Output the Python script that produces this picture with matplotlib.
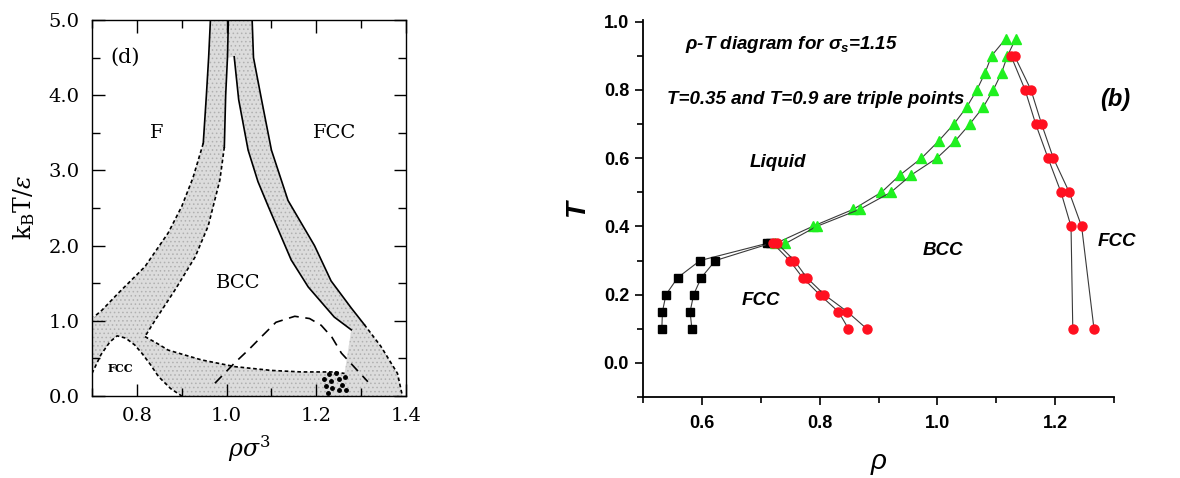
import matplotlib
matplotlib.use('Agg')
import matplotlib.pyplot as plt
from matplotlib.patches import Rectangle
from matplotlib.ticker import MultipleLocator

plt.rcParams['mathtext.fontset'] = 'custom'
plt.rcParams['mathtext.rm'] = 'Liberation Sans:bold'
plt.rcParams['mathtext.it'] = 'Liberation Sans:italic:bold'
plt.rcParams['mathtext.bf'] = 'Liberation Sans:bold'
plt.rcParams['hatch.linewidth'] = 0.6

# ---------------- panel (d): boundaries ----------------
# F side of the F/BCC band (solid on top, dashed below)
f_edge_x = [0.964, 0.960, 0.955, 0.948, 0.925, 0.900, 0.870, 0.818, 0.759, 0.722, 0.704]
f_edge_y = [5.0, 4.5, 4.0, 3.36, 2.90, 2.52, 2.17, 1.72, 1.37, 1.14, 1.05]
# BCC side of the F/BCC band
bcc_left_x = [1.004, 1.002, 0.998, 0.995, 0.985, 0.959, 0.930, 0.885, 0.841, 0.818]
bcc_left_y = [5.0, 4.5, 4.0, 3.31, 2.87, 2.26, 1.85, 1.41, 1.01, 0.79]
# BCC side of the BCC/FCC band
bcc_right_x = [1.017, 1.027, 1.048, 1.070, 1.093, 1.144, 1.182, 1.240, 1.278]
bcc_right_y = [4.51, 3.94, 3.27, 2.85, 2.52, 1.81, 1.45, 1.05, 0.88]
# FCC side of the BCC/FCC band
fcc_edge_x = [1.057, 1.060, 1.078, 1.100, 1.137, 1.196, 1.233, 1.278, 1.307, 1.344, 1.381, 1.392]
fcc_edge_y = [5.0, 4.5, 3.94, 3.27, 2.60, 2.00, 1.53, 1.17, 0.95, 0.66, 0.30, 0.0]
# top of the low temperature band
low_top_x = [0.818, 0.845, 0.870, 0.944, 1.019, 1.100, 1.167, 1.240, 1.263]
low_top_y = [0.79, 0.70, 0.61, 0.48, 0.39, 0.34, 0.32, 0.32, 0.30]
# small FCC dome
dome_x = [0.700, 0.720, 0.740, 0.756, 0.775, 0.795, 0.811, 0.830, 0.848, 0.875, 0.900]
dome_y = [0.30, 0.55, 0.72, 0.80, 0.77, 0.68, 0.57, 0.42, 0.26, 0.10, 0.0]
# long dashed curve
hump_x = [0.974, 1.018, 1.050, 1.078, 1.110, 1.152, 1.185, 1.211, 1.235, 1.256, 1.290, 1.315]
hump_y = [0.17, 0.44, 0.62, 0.79, 0.98, 1.06, 1.03, 0.94, 0.78, 0.57, 0.35, 0.19]
# dots
dots_x = [1.228, 1.244, 1.217, 1.233, 1.250, 1.263, 1.222, 1.235, 1.257, 1.226, 1.250, 1.267]
dots_y = [0.29, 0.31, 0.22, 0.20, 0.23, 0.25, 0.13, 0.11, 0.15, 0.04, 0.08, 0.08]

# ---------------- panel (b): rho-T data ----------------
sq1_rho = [0.532, 0.533, 0.539, 0.559, 0.597, 0.710]
sq1_T = [0.10, 0.15, 0.20, 0.25, 0.30, 0.35]
sq2_rho = [0.583, 0.580, 0.586, 0.599, 0.623, 0.716]
sq2_T = [0.10, 0.15, 0.20, 0.25, 0.30, 0.35]

lo1_rho = [0.721, 0.749, 0.771, 0.800, 0.832, 0.849]
lo1_T = [0.35, 0.30, 0.25, 0.20, 0.15, 0.10]
lo2_rho = [0.728, 0.757, 0.778, 0.808, 0.847, 0.880]
lo2_T = [0.35, 0.30, 0.25, 0.20, 0.15, 0.10]

tri1_rho = [0.725, 0.788, 0.857, 0.905, 0.936, 0.973, 1.002, 1.028, 1.050, 1.067, 1.081, 1.092, 1.116]
tri1_T = [0.35, 0.40, 0.45, 0.50, 0.55, 0.60, 0.65, 0.70, 0.75, 0.80, 0.85, 0.90, 0.95]
tri2_rho = [0.742, 0.795, 0.868, 0.921, 0.955, 0.999, 1.030, 1.055, 1.078, 1.095, 1.109, 1.119, 1.133]
tri2_T = [0.35, 0.40, 0.45, 0.50, 0.55, 0.60, 0.65, 0.70, 0.75, 0.80, 0.85, 0.90, 0.95]

hi1_rho = [1.125, 1.149, 1.167, 1.188, 1.210, 1.227, 1.230]
hi1_T = [0.90, 0.80, 0.70, 0.60, 0.50, 0.40, 0.10]
hi2_rho = [1.131, 1.159, 1.177, 1.197, 1.224, 1.245, 1.266]
hi2_T = [0.90, 0.80, 0.70, 0.60, 0.50, 0.40, 0.10]

fig = plt.figure(figsize=(11.8, 4.78), dpi=100)

# ======================= left panel =======================
ax1 = fig.add_axes([92 / 1180, 82 / 478, 314 / 1180, 376 / 478])
serif = 'DejaVu Serif'

# stippled grey background = coexistence bands
ax1.add_patch(Rectangle((0.69, -0.1), 0.8, 5.3, facecolor='#dcdcdc', edgecolor='#b0b0b0',
                        hatch='....', lw=0, zorder=0.5))

# white single-phase regions
ax1.fill(f_edge_x + [0.69, 0.69, f_edge_x[0]], f_edge_y + [1.05, 5.1, 5.1],
         color='white', lw=0, zorder=1)
bx = bcc_left_x[1:][::-1] + bcc_right_x + low_top_x[::-1]
by = bcc_left_y[1:][::-1] + bcc_right_y + low_top_y[::-1]
ax1.fill(bx, by, color='white', lw=0, zorder=1)
ax1.fill(fcc_edge_x + [1.41, 1.41], fcc_edge_y + [0.0, 5.1], color='white', lw=0, zorder=1)
ax1.fill([0.69] + dome_x + [0.69], [0.30] + dome_y + [-0.1], color='white', lw=0, zorder=1)

dash = (0, (2.2, 1.6))
ax1.plot(f_edge_x[:4], f_edge_y[:4], color='black', lw=1.2, zorder=2)
ax1.plot(f_edge_x[3:], f_edge_y[3:], color='black', lw=1.2, ls=dash, zorder=2)
ax1.plot(bcc_left_x[:4], bcc_left_y[:4], color='black', lw=1.2, zorder=2)
ax1.plot(bcc_left_x[3:], bcc_left_y[3:], color='black', lw=1.2, ls=dash, zorder=2)
ax1.plot(bcc_right_x, bcc_right_y, color='black', lw=1.2, zorder=2)
ax1.plot(fcc_edge_x[:9], fcc_edge_y[:9], color='black', lw=1.2, zorder=2)
ax1.plot(fcc_edge_x[8:], fcc_edge_y[8:], color='black', lw=1.2, ls=dash, zorder=2)
ax1.plot(low_top_x, low_top_y, color='black', lw=1.2, ls=dash, zorder=2)
ax1.plot(dome_x, dome_y, color='black', lw=1.2, ls=dash, zorder=2)
ax1.plot(hump_x, hump_y, color='black', lw=1.2, ls=(0, (6, 4)), zorder=2)
ax1.plot(dots_x, dots_y, 'o', color='black', ms=2.5, zorder=3)

ax1.set_xlim(0.7, 1.4)
ax1.set_ylim(0, 5)
ax1.xaxis.set_minor_locator(MultipleLocator(0.1))
ax1.yaxis.set_minor_locator(MultipleLocator(0.5))
ax1.set_xticks([0.8, 1.0, 1.2, 1.4])
ax1.set_xticklabels(['0.8', '1.0', '1.2', '1.4'], family=serif, fontsize=14)
ax1.set_yticks([0, 1, 2, 3, 4, 5])
ax1.set_yticklabels(['0.0', '1.0', '2.0', '3.0', '4.0', '5.0'], family=serif, fontsize=14)
ax1.tick_params(which='both', direction='in', top=True, right=True, width=1.0)
ax1.tick_params(which='major', length=9)
ax1.tick_params(which='minor', length=6)
ax1.tick_params(axis='x', which='major', pad=8)
ax1.tick_params(axis='y', which='major', pad=9)
ax1.set_xlabel(r'$\rho\sigma^3$', fontsize=17, math_fontfamily='dejavuserif', labelpad=6)
ax1.set_ylabel(r'k$_{\rm B}$T/$\epsilon$', family=serif, fontsize=17,
               math_fontfamily='dejavuserif', labelpad=8)
for s in ax1.spines.values():
    s.set_linewidth(1.0)
    s.set_zorder(5)

ax1.text(0.773, 4.51, '(d)', family=serif, fontsize=15, ha='center', va='center', zorder=4)
ax1.text(0.844, 3.50, 'F', family=serif, fontsize=14, ha='center', va='center', zorder=4)
ax1.text(1.240, 3.50, 'FCC', family=serif, fontsize=14, ha='center', va='center', zorder=4)
ax1.text(1.026, 1.50, 'BCC', family=serif, fontsize=14, ha='center', va='center', zorder=4)
ax1.text(0.763, 0.37, 'FCC', family=serif, fontsize=8, fontweight='bold',
         ha='center', va='center', zorder=4)

# ======================= right panel =======================
ax2 = fig.add_axes([643 / 1180, 81 / 478, 471 / 1180, 377 / 478])
sans = 'Liberation Sans'
line_kw = dict(color='#3a3a3a', lw=0.8, zorder=2)
green = '#1ff01f'
red = '#ff1020'

ax2.plot(sq1_rho, sq1_T, marker='s', ms=5.5, mfc='black', mec='black', **line_kw)
ax2.plot(sq2_rho, sq2_T, marker='s', ms=5.5, mfc='black', mec='black', **line_kw)
ax2.plot(tri1_rho, tri1_T, marker='^', ms=7, mfc=green, mec=green, **line_kw)
ax2.plot(tri2_rho, tri2_T, marker='^', ms=7, mfc=green, mec=green, **line_kw)
ax2.plot(lo1_rho, lo1_T, marker='o', ms=6.5, mfc=red, mec=red, **line_kw)
ax2.plot(lo2_rho, lo2_T, marker='o', ms=6.5, mfc=red, mec=red, **line_kw)
ax2.plot(hi1_rho, hi1_T, marker='o', ms=6.5, mfc=red, mec=red, **line_kw)
ax2.plot(hi2_rho, hi2_T, marker='o', ms=6.5, mfc=red, mec=red, **line_kw)

ax2.set_xlim(0.5, 1.3)
ax2.set_ylim(-0.1, 1.005)
ax2.xaxis.set_minor_locator(MultipleLocator(0.1))
ax2.yaxis.set_minor_locator(MultipleLocator(0.1))
ax2.set_xticks([0.6, 0.8, 1.0, 1.2])
ax2.set_yticks([0.0, 0.2, 0.4, 0.6, 0.8, 1.0])
for lab in ax2.get_xticklabels() + ax2.get_yticklabels():
    lab.set_family(sans)
    lab.set_fontweight('bold')
    lab.set_fontsize(13)
ax2.tick_params(which='both', direction='out', width=1.2)
ax2.tick_params(which='major', length=6, pad=4)
ax2.tick_params(which='minor', length=4)
ax2.tick_params(axis='x', pad=7)
ax2.spines['top'].set_visible(False)
ax2.spines['right'].set_visible(False)
ax2.spines['left'].set_linewidth(1.3)
ax2.spines['bottom'].set_linewidth(1.3)
ax2.set_xlabel('ρ', family=sans, style='italic', fontsize=20, labelpad=12)
ax2.set_ylabel('T', family=sans, style='italic', fontweight='bold', fontsize=20, labelpad=10)

txt = dict(family=sans, style='italic', fontweight='bold', fontsize=13.5, zorder=4)
ax2.text(0.571, 0.932, r'$\rho$-T diagram for $\sigma_s$=1.15', ha='left', va='center',
         math_fontfamily='custom', **txt)
ax2.text(0.540, 0.771, 'T=0.35 and T=0.9 are triple points', ha='left', va='center', **txt)
ax2.text(1.328, 0.771, '(b)', ha='right', va='center', family=sans, style='italic',
         fontweight='bold', fontsize=17)
ax2.text(0.729, 0.586, 'Liquid', ha='center', va='center', **txt)
ax2.text(1.010, 0.330, 'BCC', ha='center', va='center', **txt)
ax2.text(0.700, 0.183, 'FCC', ha='center', va='center', **txt)
ax2.text(1.305, 0.356, 'FCC', ha='center', va='center', **txt)

fig.savefig('out.png', dpi=100)
